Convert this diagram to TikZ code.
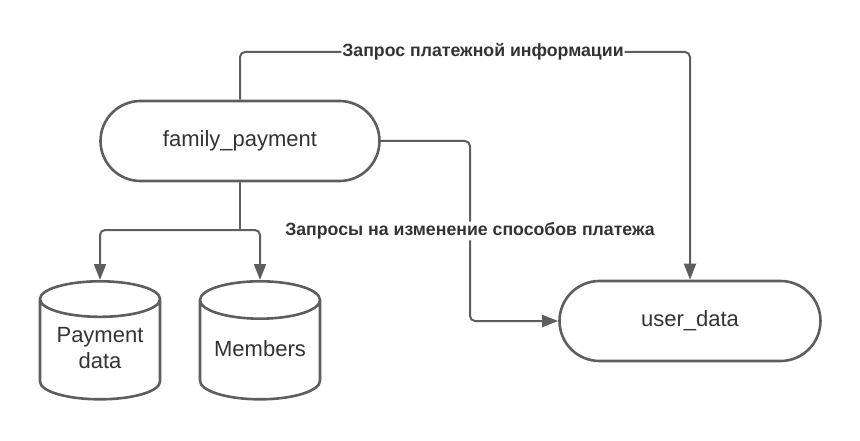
\documentclass[tikz,border=0pt]{standalone}
\usepackage{fontspec}
\setmainfont{Liberation Sans}
\usetikzlibrary{arrows.meta}
\usetikzlibrary{shapes.geometric}

\definecolor{edge}{HTML}{5E5E5E}
\definecolor{ink}{HTML}{333333}

\begin{document}
\begin{tikzpicture}[
  x=1pt, y=-1pt,
  proc/.style  = {draw=edge, line width=2.6pt, rounded corners=40pt,
                  minimum width=279pt, minimum height=80pt, text=ink,
                  font=\fontsize{22}{26}\selectfont},
  store/.style = {cylinder, shape border rotate=90, aspect=0.38, draw=edge,
                  line width=2.6pt, minimum width=120pt, minimum height=118pt,
                  text=ink, align=center, anchor=north, text depth=10pt,
                  font=\fontsize{22}{26}\selectfont},
  line/.style  = {draw=edge, line width=2pt, rounded corners=5pt},
  lbl/.style   = {fill=white, text=ink, inner sep=1pt,
                  font=\bfseries\fontsize{17.7}{20}\selectfont},
  >={Triangle[length=16pt,width=12pt]}
]

  \useasboundingbox (0,0) rectangle (860,441);

  \node[proc]  (fp)  at (240,141) {family\_payment};
  \node[proc, minimum width=261pt] (ud) at (690,321) {user\_data};
  \node[store] (pd)  at (100,280) {Payment\\data};
  \node[store] (mem) at (260,280) {Members};

  \coordinate (top)   at (ud.north |- 0,52);
  \coordinate (bend)  at (470,141);
  \coordinate (split) at (240,230);

  % requests
  \draw[line,->] (fp.north) |- node[lbl, pos=0.77] (info) {Запрос платежной информации} (top) -- (ud.north);
  \draw[line,->] (fp.east) -- (bend) |- node[lbl, pos=0.25] (change) {Запросы на изменение способов платежа} (ud.west);

  % storage
  \draw[line] (fp.south) -- (split);
  \draw[line,->] (split) -| (pd.north);
  \draw[line,->] (split) -| (mem.north);

\end{tikzpicture}
\end{document}
